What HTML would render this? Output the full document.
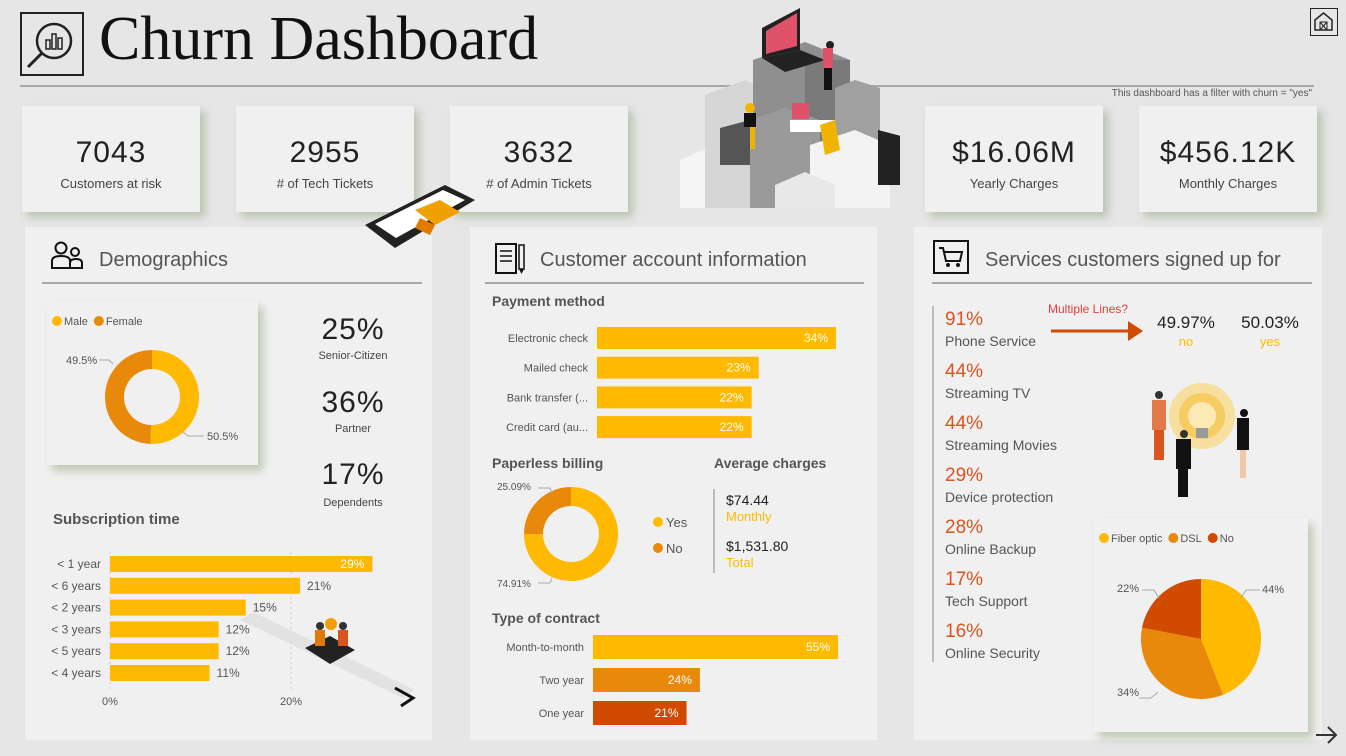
<!DOCTYPE html>
<html><head><meta charset="utf-8">
<style>
*{margin:0;padding:0;box-sizing:border-box}
body{width:1346px;height:756px;background:#e6e6e6;font-family:"Liberation Sans",sans-serif;position:relative;overflow:hidden;color:#333}
.abs{position:absolute}
.kpi{position:absolute;top:106px;width:178px;height:106px;background:#f0f0f0;box-shadow:5px 5px 8px rgba(150,170,130,.55);text-align:center}
.kpi .v{position:absolute;top:30px;left:0;right:0;font-size:30px;letter-spacing:1px;color:#222}
.kpi .l{position:absolute;top:70px;left:0;right:0;font-size:13px;color:#444}
.panel{position:absolute;top:227px;height:513px;background:#f0f0f0}
.ptitle{position:absolute;font-size:20px;color:#555}
.hr{position:absolute;height:2px;background:#a8a8a8}
.h3{position:absolute;font-size:15px;font-weight:bold;color:#555}
svg text{font-family:"Liberation Sans",sans-serif}
</style></head><body>
<div class="abs" style="left:20px;top:12px;width:64px;height:64px;border:2px solid #222">
<svg width="60" height="60" viewBox="0 0 60 60"><circle cx="32" cy="27" r="17" fill="none" stroke="#222" stroke-width="2.5"/><line x1="20" y1="39" x2="6" y2="53" stroke="#222" stroke-width="3"/><rect x="24" y="26" width="4" height="9" fill="none" stroke="#222" stroke-width="1.5"/><rect x="30" y="20" width="4" height="15" fill="none" stroke="#222" stroke-width="1.5"/><rect x="36" y="24" width="4" height="11" fill="none" stroke="#222" stroke-width="1.5"/></svg></div>
<div class="abs" style="left:99px;top:4px;font-family:'Liberation Serif',serif;font-size:62px;color:#111">Churn Dashboard</div>
<div class="hr" style="left:20px;top:85px;width:1294px"></div>
<div class="abs" style="right:34px;top:88px;font-size:10px;color:#555">This dashboard has a filter with churn = "yes"</div>
<div class="abs" style="left:1310px;top:8px;width:28px;height:28px;border:1.5px solid #222">
<svg width="25" height="25"><path d="M4 11 L12.5 4 L21 11 V21 H4 Z" fill="none" stroke="#222" stroke-width="1.5"/><rect x="9" y="13" width="7" height="8" fill="none" stroke="#222"/><line x1="9" y1="13" x2="16" y2="21" stroke="#222"/><line x1="16" y1="13" x2="9" y2="21" stroke="#222"/></svg></div>

<svg class="abs" style="left:670px;top:0" width="230" height="215">
<polygon points="10,160 45,145 80,160 80,208 10,208" fill="#f5f5f5"/><polygon points="35,95 75,80 110,95 110,208 35,208" fill="#d6d6d6"/>
<polygon points="83,60 135,42 180,60 180,208 83,208" fill="#8f8f8f"/><polygon points="135,60 180,60 180,208 135,208" fill="#7a7a7a"/>
<polygon points="165,88 185,80 210,88 210,190 165,190" fill="#a0a0a0"/>
<polygon points="80,120 115,108 150,120 150,208 80,208" fill="#9a9a9a"/>
<polygon points="140,145 185,130 220,145 220,208 140,208" fill="#f3f3f3"/>
<polygon points="105,185 135,172 165,185 165,208 105,208" fill="#e8e8e8"/>
<polygon points="50,128 80,120 80,165 50,165" fill="#555"/>
<polygon points="208,130 235,137 235,185 208,185" fill="#222"/>
<polygon points="92,28 130,8 130,50 92,58" fill="#222"/><polygon points="96,31 127,13 127,46 96,54" fill="#e0526a"/><polygon points="92,58 130,50 155,60 115,72" fill="#222"/>
<circle cx="160" cy="45" r="4" fill="#222"/><rect x="153" y="48" width="10" height="20" fill="#e0526a"/><rect x="154" y="68" width="8" height="22" fill="#111"/>
<rect x="122" y="103" width="17" height="16" fill="#e0526a"/><rect x="120" y="120" width="45" height="12" fill="#fff"/><polygon points="150,125 165,120 170,150 155,155" fill="#f0b400"/>
<circle cx="80" cy="108" r="5" fill="#f0b400"/><rect x="74" y="113" width="12" height="14" fill="#111"/><rect x="80" y="127" width="5" height="22" fill="#f0b400"/>
</svg>

<div class="kpi" style="left:22px"><div class="v">7043</div><div class="l">Customers at risk</div></div>
<div class="kpi" style="left:236px"><div class="v">2955</div><div class="l"># of Tech Tickets</div></div>
<div class="kpi" style="left:450px"><div class="v">3632</div><div class="l"># of Admin Tickets</div></div>
<div class="kpi" style="left:925px"><div class="v">$16.06M</div><div class="l">Yearly Charges</div></div>
<div class="kpi" style="left:1139px"><div class="v">$456.12K</div><div class="l">Monthly Charges</div></div>

<div class="panel" style="left:25px;width:407px"></div>
<div class="panel" style="left:470px;width:407px"></div>
<div class="panel" style="left:914px;width:408px"></div>

<svg class="abs" style="left:360px;top:180px" width="120" height="75">
<polygon points="5,45 85,5 115,20 35,68" fill="#222"/><polygon points="15,44 83,10 105,20 36,58" fill="#fff"/><polygon points="55,30 80,20 100,32 75,45" fill="#f0a000"/><polygon points="60,38 75,45 70,55 55,48" fill="#e07a00"/></svg>

<svg class="abs" style="left:50px;top:241px" width="36" height="30"><circle cx="11" cy="7" r="5.5" fill="none" stroke="#111" stroke-width="2"/><circle cx="25" cy="11" r="4" fill="none" stroke="#111" stroke-width="2"/><path d="M2 27 V20 Q2 15 11 15 Q20 15 20 20 V27 Z" fill="none" stroke="#111" stroke-width="2"/><path d="M20 27 V22 Q20 18 26 18 Q32 18 32 22 V27 Z" fill="none" stroke="#111" stroke-width="2"/></svg>
<div class="ptitle" style="left:99px;top:249px">Demographics</div>
<div class="hr" style="left:42px;top:282px;width:380px"></div>
<div class="abs" style="left:47px;top:301px;width:211px;height:164px;background:#f0f0f0;box-shadow:5px 6px 8px rgba(150,170,130,.55)"></div>
<svg class="abs" id="genderSvg" style="left:47px;top:301px" width="211" height="164"></svg>

<div class="abs" style="left:303px;top:313px;width:100px;text-align:center"><div style="font-size:30px;color:#222;letter-spacing:1px">25%</div><div style="font-size:11px;color:#444;margin-top:3px">Senior-Citizen</div></div>
<div class="abs" style="left:303px;top:386px;width:100px;text-align:center"><div style="font-size:30px;color:#222;letter-spacing:1px">36%</div><div style="font-size:11px;color:#444;margin-top:3px">Partner</div></div>
<div class="abs" style="left:303px;top:458px;width:100px;text-align:center"><div style="font-size:30px;color:#222;letter-spacing:1px">17%</div><div style="font-size:11px;color:#444;margin-top:5px">Dependents</div></div>

<div class="h3" style="left:53px;top:511px">Subscription time</div>
<svg class="abs" id="subSvg" style="left:25px;top:540px" width="400" height="180"></svg>

<svg class="abs" style="left:494px;top:242px" width="34" height="34"><rect x="2" y="2" width="20" height="29" fill="none" stroke="#111" stroke-width="2"/><line x1="6" y1="9" x2="18" y2="9" stroke="#111" stroke-width="1.5"/><line x1="6" y1="14" x2="18" y2="14" stroke="#111" stroke-width="1.5"/><line x1="6" y1="19" x2="18" y2="19" stroke="#111" stroke-width="1.5"/><rect x="25" y="3" width="5" height="24" fill="none" stroke="#111" stroke-width="1.5"/><polygon points="25,27 30,27 27.5,32" fill="#111"/></svg>
<div class="ptitle" style="left:540px;top:249px">Customer account information</div>
<div class="hr" style="left:485px;top:282px;width:379px"></div>
<div class="h3" style="left:492px;top:293px;font-size:14px">Payment method</div>
<svg class="abs" id="paySvg" style="left:470px;top:320px" width="400" height="125"></svg>
<div class="h3" style="left:492px;top:455px;font-size:14px">Paperless billing</div>
<svg class="abs" id="paperSvg" style="left:470px;top:470px" width="240" height="125"></svg>
<div class="h3" style="left:714px;top:455px;font-size:14px">Average charges</div>
<div class="abs" style="left:713px;top:489px;width:2px;height:84px;background:#bbb"></div>
<div class="abs" style="left:726px;top:492px;font-size:14px;color:#222">$74.44<div style="font-size:13px;color:#FFB900;margin-top:1px">Monthly</div></div>
<div class="abs" style="left:726px;top:538px;font-size:14px;color:#222">$1,531.80<div style="font-size:13px;color:#FFB900;margin-top:1px">Total</div></div>
<div class="h3" style="left:492px;top:610px;font-size:14px">Type of contract</div>
<svg class="abs" id="contractSvg" style="left:470px;top:630px" width="400" height="100"></svg>

<svg class="abs" style="left:933px;top:240px" width="36" height="34"><rect x="1" y="1" width="34" height="32" fill="none" stroke="#111" stroke-width="2"/><path d="M6 8 H10 L13 21 H27 L29 12 H11" fill="none" stroke="#111" stroke-width="2"/><circle cx="15" cy="25" r="2" fill="#111"/><circle cx="25" cy="25" r="2" fill="#111"/></svg>
<div class="ptitle" style="left:985px;top:249px">Services customers signed up for</div>
<div class="hr" style="left:932px;top:282px;width:380px"></div>
<div class="abs" style="left:932px;top:306px;width:2px;height:356px;background:#bbb"></div>
<div id="svcList"></div>
<div class="abs" style="left:1048px;top:302px;font-size:12px;color:#E0403A">Multiple Lines?</div>
<svg class="abs" style="left:1050px;top:318px" width="95" height="26"><line x1="1" y1="13" x2="80" y2="13" stroke="#D04A02" stroke-width="3"/><polygon points="78,3 93,13 78,23" fill="#D04A02"/></svg>
<div class="abs" style="left:1146px;top:313px;width:80px;text-align:center;font-size:17px;color:#222">49.97%<div style="font-size:13px;color:#FFB900;margin-top:1px">no</div></div>
<div class="abs" style="left:1230px;top:313px;width:80px;text-align:center;font-size:17px;color:#222">50.03%<div style="font-size:13px;color:#FFB900;margin-top:1px">yes</div></div>
<svg class="abs" style="left:1140px;top:378px" width="120" height="122">
<circle cx="62" cy="38" r="33" fill="#f7dfa0"/><circle cx="62" cy="38" r="23" fill="#f5cd63"/><circle cx="62" cy="38" r="14" fill="#fde9b5"/><rect x="56" y="50" width="12" height="10" fill="#999"/>
<circle cx="19" cy="17" r="4" fill="#333"/><rect x="12" y="22" width="14" height="30" fill="#e07a4a"/><rect x="14" y="52" width="10" height="30" fill="#d9541e"/>
<circle cx="44" cy="56" r="4" fill="#333"/><rect x="36" y="61" width="15" height="30" fill="#111"/><rect x="38" y="91" width="10" height="28" fill="#111"/>
<circle cx="104" cy="35" r="4" fill="#111"/><rect x="97" y="40" width="12" height="32" fill="#111"/><rect x="100" y="72" width="6" height="28" fill="#f0c8a8"/></svg>
<div class="abs" style="left:1094px;top:518px;width:214px;height:214px;background:#f0f0f0;box-shadow:5px 6px 8px rgba(150,170,130,.55)"></div>
<svg class="abs" id="pieSvg" style="left:1094px;top:518px" width="214" height="214"></svg>
<svg class="abs" style="left:1314px;top:724px" width="26" height="22"><line x1="2" y1="11" x2="22" y2="11" stroke="#333" stroke-width="2"/><polyline points="14,3 22,11 14,19" fill="none" stroke="#333" stroke-width="2"/></svg>

<script>
const genderLabels=["Male","Female"];
const genderValues=[50.5,49.5];
const subCats=["< 1 year","< 6 years","< 2 years","< 3 years","< 5 years","< 4 years"];
const subValues=[29,21,15,12,12,11];
const subTicks=[0,20];
const payCats=["Electronic check","Mailed check","Bank transfer (...","Credit card (au..."];
const payValues=[34,23,22,22];
const paperLabels=["Yes","No"];
const paperValues=[74.91,25.09];
const contractCats=["Month-to-month","Two year","One year"];
const contractValues=[55,24,21];
const svcNames=["Phone Service","Streaming TV","Streaming Movies","Device protection","Online Backup","Tech Support","Online Security"];
const svcValues=[91,44,44,29,28,17,16];
const inetLabels=["Fiber optic","DSL","No"];
const inetValues=[44,34,22];

const NS="http://www.w3.org/2000/svg";
const Y="#FFB900",O="#E8890C",R="#D04A02";
function mk(p,t,a,txt){const e=document.createElementNS(NS,t);for(const k in a)e.setAttribute(k,a[k]);if(txt!==undefined)e.textContent=txt;p.appendChild(e);return e;}
function arc(cx,cy,r0,r1,a0,a1){const p=(r,a)=>[cx+r*Math.sin(a),cy-r*Math.cos(a)];const l=(a1-a0)>Math.PI?1:0;
 const [x1,y1]=p(r1,a0),[x2,y2]=p(r1,a1);
 if(r0<=0)return `M${cx},${cy}L${x1},${y1}A${r1},${r1} 0 ${l} 1 ${x2},${y2}Z`;
 const [x3,y3]=p(r0,a1),[x4,y4]=p(r0,a0);
 return `M${x1},${y1}A${r1},${r1} 0 ${l} 1 ${x2},${y2}L${x3},${y3}A${r0},${r0} 0 ${l} 0 ${x4},${y4}Z`;}
function donut(svg,vals,cols,cx,cy,r0,r1,name){const tot=vals.reduce((a,b)=>a+b,0);let a=0;vals.forEach((v,i)=>{const a1=a+v/tot*2*Math.PI;const e=mk(svg,"path",{d:arc(cx,cy,r0,r1,a,a1),fill:cols[i]});
 
 
 a=a1;});}
function legend(svg,labels,cols,x,y){let cx=x;labels.forEach((l,i)=>{mk(svg,"circle",{cx:cx+5,cy:y,r:5,fill:cols[i]});const t=mk(svg,"text",{x:cx+12,y:y+4,"font-size":11,fill:"#555"},l);cx+=12+t.getComputedTextLength()+6;});}

(function(){const s=document.getElementById("genderSvg");legend(s,genderLabels,[Y,O],5,20);
donut(s,genderValues,[Y,O],105,96,28,47,"gender-slice");
mk(s,"polyline",{points:"52,59 62,59 66,63",fill:"none",stroke:"#aaa"});
mk(s,"text",{x:19,y:63,"font-size":11,fill:"#555"},genderValues[1]+"%");
mk(s,"polyline",{points:"136,131 141,135 157,135",fill:"none",stroke:"#aaa"});
mk(s,"text",{x:160,y:139,"font-size":11,fill:"#555"},genderValues[0]+"%");})();

(function(){const s=document.getElementById("subSvg");const x0=85,sc=(291-110)/20,rowY=i=>24+i*21.8,h=16;
subTicks.forEach(t=>{const x=x0+t*sc;mk(s,"line",{x1:x,y1:12,x2:x,y2:150,stroke:"#ccc","stroke-dasharray":"2,3"});mk(s,"text",{x:x,y:165,"font-size":11,fill:"#555","text-anchor":"middle"},t+"%");});
subCats.forEach((c,i)=>{const y=rowY(i);mk(s,"text",{x:x0-9,y:y+4,"font-size":12,fill:"#555","text-anchor":"end"},c);
const w=subValues[i]*sc;const b=mk(s,"rect",{x:x0,y:y-h/2,width:w,height:h,fill:Y});


const inside=i===0;mk(s,"text",{x:inside?x0+w-8:x0+w+7,y:y+4,"font-size":12,fill:inside?"#fff":"#555","text-anchor":inside?"end":"start"},subValues[i]+"%");});
mk(s,"polygon",{points:"215,80 228,72 390,150 378,158",fill:"#e2e2e2"});
mk(s,"polygon",{points:"280,108 305,96 330,110 305,124",fill:"#222"});
mk(s,"polyline",{points:"370,148 388,158 376,166",fill:"none",stroke:"#111","stroke-width":3});
mk(s,"circle",{cx:295,cy:86,r:4,fill:"#333"});mk(s,"rect",{x:290,y:90,width:10,height:16,fill:"#e07a00"});
mk(s,"circle",{cx:318,cy:86,r:4,fill:"#333"});mk(s,"rect",{x:313,y:90,width:10,height:16,fill:"#d9541e"});
mk(s,"circle",{cx:306,cy:84,r:6,fill:"#f0a000"});})();

function hbars(id,cats,vals,cols,x0,sc,rowY,h,fs,lx,prefix){const s=document.getElementById(id);
cats.forEach((c,i)=>{const y=rowY(i);mk(s,"text",{x:lx,y:y+4,"font-size":fs,fill:"#555","text-anchor":"end"},c);
const w=vals[i]*sc;const b=mk(s,"rect",{x:x0,y:y-h/2,width:w,height:h,fill:cols[i]});


mk(s,"text",{x:x0+w-8,y:y+4,"font-size":12,fill:"#fff","text-anchor":"end"},vals[i]+"%");});}
hbars("paySvg",payCats,payValues,[Y,Y,Y,Y],127,(836-597)/34,i=>18+i*29.7,22,11,118,"payment");
hbars("contractSvg",contractCats,contractValues,[Y,O,R],123,(838-593)/55,i=>17+i*33,24,11,114,"contract");

(function(){const s=document.getElementById("paperSvg");donut(s,paperValues,[Y,O],101,64,28,47,"paperless-slice");
mk(s,"polyline",{points:"68,18 80,18 82,23",fill:"none",stroke:"#aaa"});mk(s,"text",{x:27,y:20,"font-size":10,fill:"#555"},paperValues[1].toFixed(2)+"%");
mk(s,"polyline",{points:"68,113 80,113 82,108",fill:"none",stroke:"#aaa"});mk(s,"text",{x:27,y:117,"font-size":10,fill:"#555"},paperValues[0].toFixed(2)+"%");
paperLabels.forEach((l,i)=>{mk(s,"circle",{cx:188,cy:52+i*26,r:5,fill:i?O:Y});mk(s,"text",{x:196,y:57+i*26,"font-size":13,fill:"#555"},l);});})();

(function(){const d=document.getElementById("svcList");svcNames.forEach((n,i)=>{const e=document.createElement("div");e.className="abs";


e.style.cssText=`left:945px;top:${309+i*52}px;`;e.innerHTML=`<div style="font-size:19px;color:#D9541E">${svcValues[i]}%</div><div style="font-size:14px;color:#555;margin-top:2px">${n}</div>`;d.appendChild(e);});})();

(function(){const s=document.getElementById("pieSvg");legend(s,inetLabels,[Y,O,R],5,20);
donut(s,inetValues,[Y,O,R],107,121,0,60,"internet-slice");
mk(s,"polyline",{points:"147,80 152,72 166,72",fill:"none",stroke:"#aaa"});mk(s,"text",{x:168,y:75,"font-size":11,fill:"#555"},inetValues[0]+"%");
mk(s,"polyline",{points:"64,174 57,180 45,180",fill:"none",stroke:"#aaa"});mk(s,"text",{x:23,y:178,"font-size":11,fill:"#555"},inetValues[1]+"%");
mk(s,"polyline",{points:"65,80 60,72 48,72",fill:"none",stroke:"#aaa"});mk(s,"text",{x:23,y:74,"font-size":11,fill:"#555"},inetValues[2]+"%");})();
</script>
</body></html>
